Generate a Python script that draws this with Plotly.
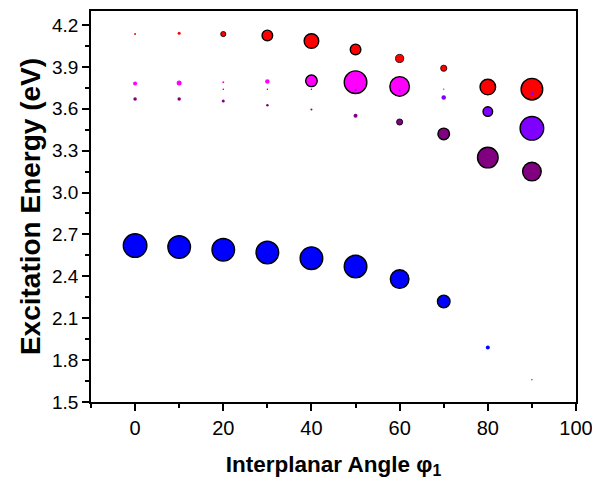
import plotly.graph_objects as go

# Interplanar angle (deg)
angles = [0, 10, 20, 30, 40, 50, 60, 70, 80, 90]

# Excitation energies (eV) per state
blue_E = [2.62, 2.61, 2.59, 2.57, 2.53, 2.47, 2.38, 2.22, 1.89, 1.66]
purple_E = [3.67, 3.67, 3.655, 3.625, 3.595, 3.55, 3.505, 3.42, 3.25, 3.15]
magenta_E = [3.78, 3.785, 3.79, 3.795, 3.80, 3.79, 3.76, 3.68, 3.58, 3.46]
tiny_E = [None, None, 3.74, 3.74, 3.74, 3.735, 3.73, 3.74, None, 3.71]
red_E = [4.135, 4.14, 4.135, 4.125, 4.085, 4.025, 3.96, 3.89, 3.755, 3.74]

# Relative oscillator strengths (marker area proxy)
blue_f = [0.25, 0.24, 0.24, 0.24, 0.24, 0.24, 0.20, 0.14, 0.04, 0.012]
purple_f = [0.035, 0.035, 0.03, 0.025, 0.02, 0.04, 0.07, 0.13, 0.22, 0.20]
magenta_f = [0.04, 0.05, 0.02, 0.045, 0.13, 0.24, 0.21, 0.045, 0.11, 0.25]
tiny_f = [0, 0, 0.015, 0.015, 0.015, 0.02, 0.02, 0.012, 0, 0.03]
red_f = [0.02, 0.03, 0.06, 0.12, 0.16, 0.12, 0.09, 0.07, 0.17, 0.23]

# Colours per point
blue_c = ["#0000FF"] * 10
purple_c = ["#800080"] * 10
magenta_c = ["#FF00FF"] * 7 + ["#8000FF"] * 3
tiny_c = ["#800080"] * 5 + ["#8000FF"] * 5
red_c = ["#FF0000"] * 10

SCALE = 100.0


def trace(E, f, colors):
    sizes, lws = [], []
    for v in f:
        d = v * SCALE
        if d >= 10:
            lw = 1.4
        elif d >= 6:
            lw = 0.8
        else:
            lw = 0
        lws.append(lw)
        sizes.append(max(d - lw, 0))
    return go.Scatter(
        x=angles, y=E, mode="markers",
        marker=dict(size=sizes, color=colors,
                    line=dict(color="black", width=lws), opacity=1),
        showlegend=False, hoverinfo="x+y",
    )


fig = go.Figure()
fig.add_trace(trace(blue_E, blue_f, blue_c))
fig.add_trace(trace(purple_E, purple_f, purple_c))
fig.add_trace(trace(magenta_E, magenta_f, magenta_c))
fig.add_trace(trace(red_E, red_f, red_c))
fig.add_trace(trace(tiny_E, tiny_f, tiny_c))

font_family = "Liberation Sans, Arial, sans-serif"

# page body has an 8px margin, so the figure is 592x472 to fill the window
fig.update_layout(
    width=592, height=472,
    margin=dict(l=83, r=24, t=3, b=78),
    paper_bgcolor="white", plot_bgcolor="white",
    font=dict(family=font_family, color="black"),
    xaxis=dict(
        range=[-10, 100], tick0=0, dtick=20, automargin=False,
        showline=True, linecolor="black", linewidth=1.5, mirror=True,
        ticks="outside", ticklen=7, tickwidth=1.5, tickcolor="black",
        minor=dict(dtick=10, ticks="outside", ticklen=4, tickwidth=1.5, tickcolor="black"),
        showgrid=False, zeroline=False,
        tickfont=dict(size=20),
        title=dict(text="<b>Interplanar Angle φ<sub>1</sub></b>", font=dict(size=22.5), standoff=18),
    ),
    yaxis=dict(
        range=[1.5, 4.3], tick0=1.5, dtick=0.3, tickformat=".1f", automargin=False,
        showline=True, linecolor="black", linewidth=1.5, mirror=True,
        ticks="outside", ticklen=7, tickwidth=1.5, tickcolor="black",
        minor=dict(tick0=1.5, dtick=0.15, ticks="outside", ticklen=4, tickwidth=1.5, tickcolor="black"),
        showgrid=False, zeroline=False,
        tickfont=dict(size=19),
        title=dict(text="<b>Excitation Energy (eV)</b>", font=dict(size=28), standoff=3),
    ),
)

fig.write_html("out.html")
